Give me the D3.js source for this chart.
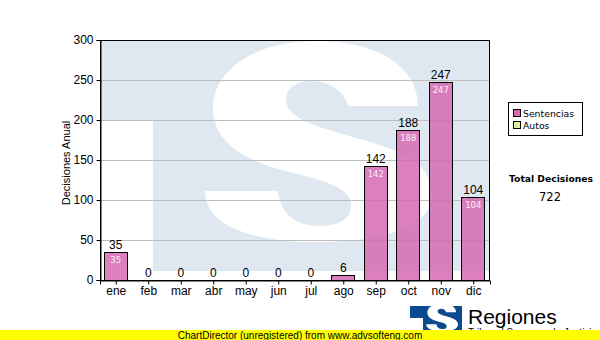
<!DOCTYPE html>
<html><head><meta charset="utf-8">
<script src="https://cdn.jsdelivr.net/npm/d3@7"></script>
<style>body{margin:0;background:#fff}svg{display:block}</style>
</head><body>
<svg id="c" width="600" height="340"></svg>
<script>
const categories = ["ene","feb","mar","abr","may","jun","jul","ago","sep","oct","nov","dic"];
const sentencias = [35,0,0,0,0,0,0,6,142,188,247,104];
const autos = [0,0,0,0,0,0,0,0,0,0,0,0];
const yTicks = [0,50,100,150,200,250,300];
const seriesNames = ["Sentencias","Autos"];
const seriesColors = ["#d668b4","#dcefa0"];

const svg = d3.select("#c");
const m = {l:100, t:40, r:110, b:60};
const W = 600, H = 340;
const pw = W - m.l - m.r, ph = H - m.t - m.b;

const x = d3.scaleBand().domain(categories).range([m.l, m.l+pw]).paddingInner(0.3).paddingOuter(0.15);
const y = d3.scaleLinear().domain([0,300]).range([m.t+ph, m.t]);

// S watermark path (relative to plot area)
const sPath = "M318 66 C318 25 275 1 216 1 C155 1 113 30 113 68 C113 100 140 120 190 132 C220 140 245 145 250 160 C255 178 240 186 218 186 C195 186 180 172 178 151 L105 151 C105 185 150 202 215 202 C295 202 332 182 332 155 C332 125 305 112 270 102 C230 90 192 82 187 65 C183 50 195 41 211 41 C230 41 245 52 248 66 Z";

const defs = svg.append("defs");
defs.append("clipPath").attr("id","pc").append("rect").attr("x",m.l).attr("y",m.t).attr("width",pw).attr("height",ph);

const wm = svg.append("g").attr("clip-path","url(#pc)");
wm.append("rect").attr("x",m.l).attr("y",m.t).attr("width",pw).attr("height",ph).attr("fill","#fff");
wm.append("path").attr("fill","#dfe8f1")
  .attr("d", `M${m.l} ${m.t} H${m.l+pw} V${m.t+231} H${m.l+53} V${m.t+80} H${m.l} Z`);
wm.append("path").attr("fill","#fff").attr("transform",`translate(${m.l},${m.t})`).attr("d", sPath);

// grid
svg.append("g").selectAll("line").data(yTicks.filter(t=>t>0&&t<300)).join("line")
  .attr("x1",m.l).attr("x2",m.l+pw).attr("y1",d=>y(d)).attr("y2",d=>y(d))
  .attr("stroke","#bdbdbd").attr("stroke-width",1).attr("shape-rendering","crispEdges");

// bars
const data = categories.map((c,i)=>({c, s:sentencias[i], a:autos[i]}));
const gb = svg.append("g");
gb.selectAll("rect.s").data(data.filter(d=>d.s>0)).join("rect")
  .attr("x",d=>Math.round(x(d.c))-0.5).attr("width",Math.round(x.bandwidth()))
  .attr("y",d=>Math.round(y(d.s))+0.5).attr("height",d=>Math.round(y(0)-y(d.s)))
  .attr("fill",seriesColors[0]).attr("fill-opacity",0.85).attr("stroke","#000").attr("stroke-width",1);
gb.selectAll("rect.a").data(data.filter(d=>d.a>0)).join("rect")
  .attr("x",d=>Math.round(x(d.c))-0.5).attr("width",Math.round(x.bandwidth()))
  .attr("y",d=>Math.round(y(d.s+d.a))+0.5).attr("height",d=>Math.round(y(d.s)-y(d.s+d.a)))
  .attr("fill",seriesColors[1]).attr("stroke","#000");

// inner labels
gb.selectAll("text.in").data(data.filter(d=>d.s>20)).join("text")
  .attr("x",d=>x(d.c)+x.bandwidth()/2-0.5).attr("y",d=>y(d.s)+11)
  .attr("text-anchor","middle").attr("font-family","DejaVu Sans").attr("font-size",8.5)
  .attr("fill","#fdeef7").text(d=>d.s);
// top labels
gb.selectAll("text.top").data(data).join("text")
  .attr("x",d=>x(d.c)+x.bandwidth()/2-0.5).attr("y",d=>y(d.s+d.a)-3)
  .attr("text-anchor","middle").attr("font-family","Liberation Sans, Arial").attr("font-size",12)
  .attr("fill","#000").text(d=>d.s+d.a);

// frame
svg.append("rect").attr("x",m.l+0.5).attr("y",m.t+0.5).attr("width",pw-1).attr("height",ph)
  .attr("fill","none").attr("stroke","#000").attr("stroke-width",1);

// axes
const ya = svg.append("g").attr("transform",`translate(${m.l+0.5},0)`)
  .call(d3.axisLeft(y).tickValues(yTicks).tickSize(4).tickPadding(3));
const xa = svg.append("g").attr("transform",`translate(0,${m.t+ph+0.5})`)
  .call(d3.axisBottom(x).tickSize(4).tickPadding(2));
[ya,xa].forEach(a=>{
  a.select(".domain").attr("stroke","#000");
  a.selectAll(".tick line").attr("stroke","#000");
  a.selectAll("text").attr("font-family","Liberation Sans, Arial").attr("font-size",12).attr("fill","#000");
});

svg.append("text").attr("transform",`translate(70,${m.t+ph/2+3}) rotate(-90)`)
  .attr("text-anchor","middle").attr("font-family","Liberation Sans, Arial").attr("font-size",11)
  .attr("fill","#000").text("Decisiones Anual");

// legend
const lg = svg.append("g").attr("transform","translate(508,102)");
lg.append("rect").attr("x",0.5).attr("y",0.5).attr("width",74).attr("height",33).attr("fill","#fff").attr("stroke","#000");
seriesNames.forEach((n,i)=>{
  lg.append("rect").attr("x",5.5).attr("y",7.5+i*12).attr("width",7).attr("height",7)
    .attr("fill",seriesColors[i]).attr("stroke","#000");
  lg.append("text").attr("x",15).attr("y",15+i*12).attr("font-family","DejaVu Sans, Verdana")
    .attr("font-size",9.3).attr("fill","#000").text(n);
});

svg.append("text").attr("x",551).attr("y",182).attr("text-anchor","middle")
  .attr("font-family","DejaVu Sans, Verdana").attr("font-weight","bold").attr("font-size",9.2).attr("fill","#000")
  .text("Total Decisiones");
svg.append("text").attr("x",550).attr("y",201).attr("text-anchor","middle")
  .attr("font-family","DejaVu Sans, Verdana").attr("font-size",11.5).attr("fill","#000")
  .text(d3.sum(sentencias)+d3.sum(autos));

// bottom logo
const lgo = svg.append("g");
lgo.append("path").attr("fill","#0b4a8f").attr("d","M410 306 H462 V340 H423 V318 H410 Z");
lgo.append("path").attr("fill","#fff").attr("transform","translate(411.5,303) scale(0.14)").attr("d", sPath);
svg.append("text").attr("x",468).attr("y",324).attr("font-family","Liberation Sans, Arial").attr("font-size",21).attr("fill","#000").text("Regiones");
svg.append("text").attr("x",468).attr("y",336).attr("font-family","Liberation Sans, Arial").attr("font-size",10).attr("fill","#000").text("Tribunal Supremo de Justicia");

svg.append("rect").attr("x",0).attr("y",330).attr("width",600).attr("height",10).attr("fill","#ffff00");
svg.append("text").attr("x",300).attr("y",338.5).attr("text-anchor","middle").attr("font-family","Liberation Sans, Arial")
  .attr("font-size",10).attr("fill","#000").text("ChartDirector (unregistered) from www.advsofteng.com");
</script>
</body></html>
